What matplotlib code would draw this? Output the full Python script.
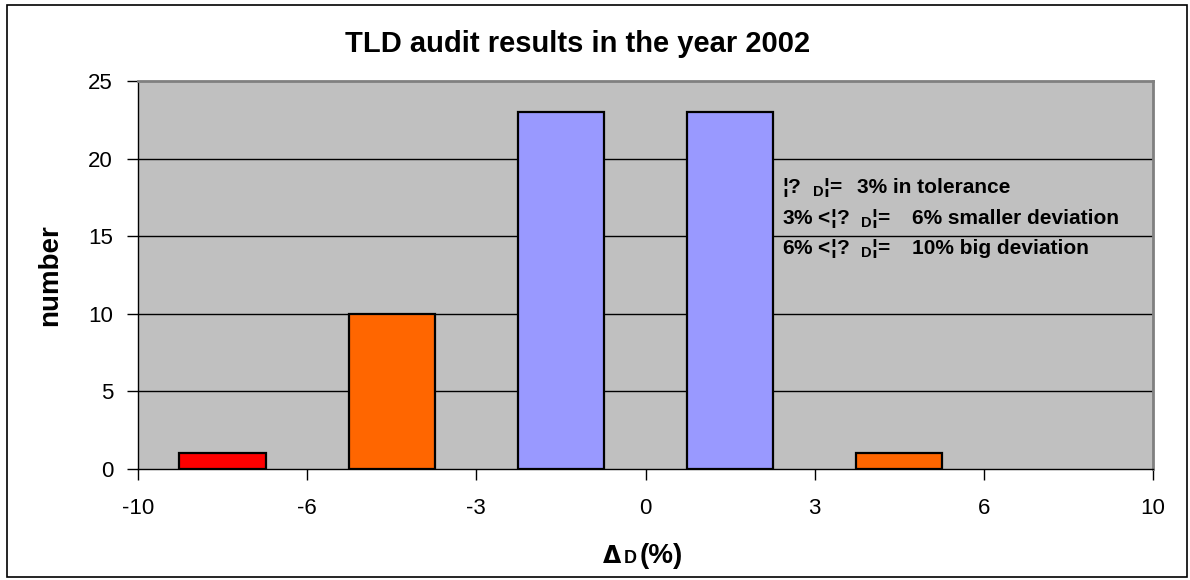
import matplotlib
matplotlib.use("Agg")
import matplotlib.pyplot as plt
from matplotlib.patches import Rectangle

# Distribution of TLD audit deviations, grouped in percent bins
bin_edges = ["-10", "-6", "-3", "0", "3", "6", "10"]
counts = [1, 10, 23, 23, 1, 0]
bar_colors = ["#FF0000", "#FF6600", "#9999FF", "#9999FF", "#FF6600", "#FF6600"]

title = "TLD audit results in the year 2002"
y_label = "number"
y_ticks = [0, 5, 10, 15, 20, 25]

# tolerance classes: condition and description
class_conditions = ["¦?  $_{\\mathrm{D}}$¦=", "3% <¦?  $_{\\mathrm{D}}$¦=", "6% <¦?  $_{\\mathrm{D}}$¦="]
class_texts = ["3% in tolerance", "6% smaller deviation", "10% big deviation"]

plt.rcParams["font.family"] = ["Liberation Sans", "DejaVu Sans"]
plt.rcParams["mathtext.fontset"] = "custom"
plt.rcParams["mathtext.rm"] = "Liberation Sans:bold"

W, H = 1190, 580
fig = plt.figure(figsize=(W / 100, H / 100), dpi=100)
ax = fig.add_axes([138 / W, 1 - 469 / H, (1153 - 138) / W, (469 - 81) / H])

# outer frame of the figure
fig.patches.append(Rectangle((7 / W, 3 / H), 1180 / W, 572 / H,
                             transform=fig.transFigure, fill=False,
                             edgecolor="black", linewidth=1.2))

ax.set_facecolor("#C0C0C0")
# only bins with entries get a column
idx = [i for i, c in enumerate(counts) if c > 0]
ax.bar(idx, [counts[i] for i in idx], width=0.51,
       color=[bar_colors[i] for i in idx], edgecolor="black",
       linewidth=1.6, zorder=3)

ax.set_xlim(-0.5, len(counts) - 0.5)
ax.set_ylim(0, 25)
ax.set_yticks(y_ticks)
ax.set_yticklabels([str(v) for v in y_ticks], fontsize=16)
ax.set_xticks([i - 0.5 for i in range(len(bin_edges))])
ax.set_xticklabels(bin_edges, fontsize=16)
ax.tick_params(axis="both", direction="out", length=8, width=1, color="black")
ax.tick_params(axis="x", pad=13)
ax.tick_params(axis="y", pad=10)

for v in y_ticks[1:-1]:
    ax.axhline(v, color="black", linewidth=1, zorder=1)

for side in ("top", "right"):
    ax.spines[side].set_color("#808080")
    ax.spines[side].set_linewidth(2)
for side in ("left", "bottom"):
    ax.spines[side].set_color("black")
    ax.spines[side].set_linewidth(1)

fig.text(578 / W, 1 - 52 / H, title, ha="center", va="baseline",
         fontsize=21, fontweight="bold")
fig.text(50 / W, 1 - 275 / H, y_label, ha="center", va="center",
         rotation=90, fontsize=20, fontweight="bold")

# axis title: delta D (%)
fig.text(603 / W, 1 - 563 / H, "Δ", ha="left", va="baseline",
         fontsize=17, fontweight="bold", family="DejaVu Sans")
fig.text(624 / W, 1 - 563 / H, "D", ha="left", va="baseline",
         fontsize=13, fontweight="bold")
fig.text(640 / W, 1 - 563 / H, "(%)", ha="left", va="baseline",
         fontsize=20, fontweight="bold")

for yy, xd, cond, desc in zip([193, 224, 254], [857, 912, 912],
                              class_conditions, class_texts):
    fig.text(782 / W, 1 - yy / H, cond, ha="left", va="baseline",
             fontsize=15, fontweight="bold")
    fig.text(xd / W, 1 - yy / H, desc, ha="left", va="baseline",
             fontsize=15, fontweight="bold")

fig.savefig("out.png", dpi=100)
